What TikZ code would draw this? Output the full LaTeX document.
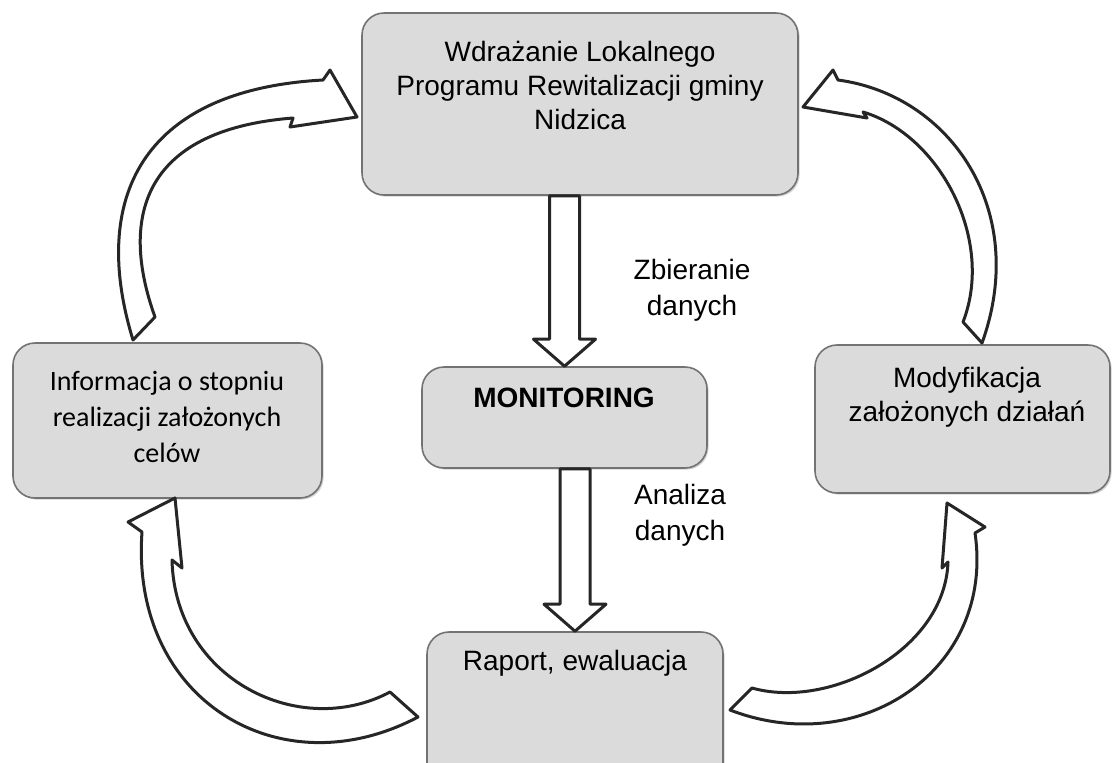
\documentclass[tikz,border=0pt]{standalone}
\usepackage{fontspec}
\setmainfont{Liberation Sans}
\newfontfamily\carlito{Carlito}
\usepackage{tikz}
\usetikzlibrary{calc,shadows}

\newcommand{\strzalkaPion}[2]{%
\coordinate (g) at (#1 -| #2);
\draw[strzalka] ($(g)+(-15,0)$) -- ($(#2)+(-15,-27)$) -- ($(#2)+(-31,-27)$) -- (#2) -- ($(#2)+(31,-27)$) -- ($(#2)+(15,-27)$) -- ($(g)+(15,0)$) -- cycle;}

\begin{document}
\begin{tikzpicture}[x=0.5pt,y=-0.5pt,
blok/.style={draw=black!55, fill=black!14, rounded corners=11pt, line width=0.8pt, drop shadow={shadow xshift=0.8pt, shadow yshift=-0.8pt, opacity=0.35}},
napis/.style={align=center, font=\fontsize{14}{17}\selectfont},
strzalka/.style={draw=black!85, fill=white, line width=1.5pt, line join=round}]
\useasboundingbox (0,0) rectangle (1112,762);
\clip (0,0) rectangle (1112,762);

\node[blok, minimum width=218pt, minimum height=91pt](impl) at (580,104){};
\node[napis](implt) at (580,85){Wdrażanie Lokalnego\\Programu Rewitalizacji gminy\\Nidzica};

\node[blok, minimum width=142.5pt, minimum height=50.5pt](mon) at (564.5,417.5){};
\node[napis, font=\fontsize{14}{17}\selectfont\bfseries](mont) at (564,398){MONITORING};

\node[blok, minimum width=154.5pt, minimum height=77.5pt](inf) at (167.5,420.5){};
\node[napis, font=\carlito\fontsize{14}{18.2}\selectfont](inft) at (167,417){Informacja o stopniu\\realizacji założonych\\celów};

\node[blok, minimum width=147.5pt, minimum height=74pt](mod) at (962.5,419){};
\node[napis](modt) at (967,397.5){Modyfikacja\\założonych działań};

\node[blok, minimum width=148pt, minimum height=100pt](rap) at (575,732){};
\node[napis](rapt) at (575,663){Raport, ewaluacja};

\strzalkaPion{impl.south}{mon.north}
\strzalkaPion{mon.south}{rap.north}

\node[napis, font=\fontsize{14}{18}\selectfont](zb) at (692,290){Zbieranie\\danych};
\node[napis, font=\fontsize{14}{18}\selectfont](an) at (680,515){Analiza\\danych};

\draw[strzalka] (133,340) .. controls (90,200) and (140,90) .. (323,80) -- (330,70) -- (357,117) -- (290,127) -- (293,118) .. controls (140,130) and (120,220) .. (155,317) -- cycle;
\draw[strzalka] (803,107) -- (833,70) -- (838,80) .. controls (950,95) and (1030,210) .. (982,343) -- (963,322) .. controls (995,240) and (940,135) .. (863,112) -- (867,118) -- cycle;
\draw[strzalka] (175,498) -- (128,522) -- (142,532) .. controls (130,700) and (280,790) .. (418,717) -- (390,692) .. controls (300,740) and (175,680) .. (172,560) -- (182,568) -- cycle;
\draw[strzalka] (947,503) -- (985,527) -- (975,533) .. controls (995,670) and (860,760) .. (730,710) -- (752,688) .. controls (830,710) and (945,650) .. (948,562) -- (942,568) -- cycle;
\end{tikzpicture}
\end{document}
